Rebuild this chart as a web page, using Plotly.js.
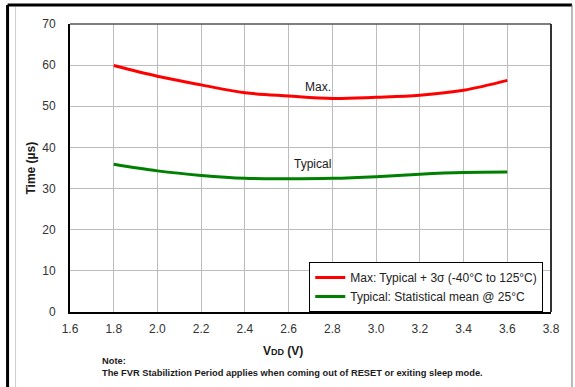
<!DOCTYPE html>
<html>
<head>
<meta charset="utf-8">
<script src="https://cdn.plot.ly/plotly-3.0.1.min.js"></script>
<style>html,body{margin:0;padding:0;background:#fff;}#chart{width:575px;height:387px;}</style>
</head>
<body>
<div id="chart"></div>
<script>
const vdd = [1.8, 2.0, 2.2, 2.4, 2.6, 2.8, 3.0, 3.2, 3.4, 3.6];
const maxTime = [59.9, 57.3, 55.2, 53.3, 52.5, 51.9, 52.2, 52.7, 53.9, 56.3];
const typicalTime = [35.9, 34.3, 33.2, 32.5, 32.4, 32.5, 32.9, 33.5, 33.9, 34.0];
const seriesNames = ["Max: Typical + 3σ (-40°C to 125°C)", "Typical: Statistical mean @ 25°C"];
const curveLabels = ["Max.", "Typical"];
const noteLines = ["Note:", "The FVR Stabiliztion Period applies when coming out of RESET or exiting sleep mode."];

const L = 69.5, R = 551, T = 24, B = 312, W = 575, H = 387;
const px = x => (x - L) / (R - L);
const py = y => (B - y) / (B - T);
const font = "Liberation Sans, Arial, sans-serif";

const traces = [
  {x: vdd, y: maxTime, name: seriesNames[0], mode: "lines",
   line: {color: "#ff0000", width: 3, shape: "spline", smoothing: 1}},
  {x: vdd, y: typicalTime, name: seriesNames[1], mode: "lines",
   line: {color: "#008000", width: 3, shape: "spline", smoothing: 1}}
];

const ann = (x, y, text, size, extra) => Object.assign({
  xref: "paper", yref: "paper", x: px(x), y: py(y), text: text, showarrow: false,
  xanchor: "center", yanchor: "middle",
  font: {family: font, size: size, color: "#1a1a1a"}
}, extra || {});

const layout = {
  width: W, height: H,
  margin: {l: L, r: W - R, t: T, b: H - B},
  paper_bgcolor: "#fff", plot_bgcolor: "#fff",
  font: {family: font, size: 12, color: "#222"},
  showlegend: true,
  legend: {x: px(309), y: py(287), xanchor: "left", yanchor: "middle",
           bordercolor: "#000", borderwidth: 1, bgcolor: "#fff",
           font: {family: font, size: 12, color: "#222"},
           tracegroupgap: 0, itemwidth: 30},
  xaxis: {range: [1.6, 3.8], dtick: 0.2, tick0: 1.6, tickformat: ".1f",
          showgrid: true, gridcolor: "#bdbdbd", gridwidth: 1,
          showline: true, linecolor: "#000", linewidth: 2, zeroline: false,
          ticks: "", ticklen: 0, ticklabelstandoff: 5, tickfont: {size: 12, color: "#333"}, fixedrange: true},
  yaxis: {range: [0, 70], dtick: 10, tick0: 0,
          showgrid: true, gridcolor: "#bdbdbd", gridwidth: 1,
          showline: true, linecolor: "#000", linewidth: 2, zeroline: false,
          ticks: "", ticklen: 0, ticklabelstandoff: 10, tickfont: {size: 12, color: "#333"}, fixedrange: true},
  shapes: [
    {type: "line", xref: "paper", yref: "paper", x0: 0, x1: 1, y0: 1, y1: 1, line: {color: "#555", width: 1.5}},
    {type: "line", xref: "paper", yref: "paper", x0: 1, x1: 1, y0: 0, y1: 1, line: {color: "#333", width: 2}},
    {type: "line", xref: "paper", yref: "paper", x0: px(7), x1: px(572), y0: py(5), y1: py(5), line: {color: "#000", width: 3}},
    {type: "line", xref: "paper", yref: "paper", x0: px(7), x1: px(7), y0: py(5), y1: py(400), line: {color: "#000", width: 3}},
    {type: "line", xref: "paper", yref: "paper", x0: px(15), x1: px(15), y0: py(7), y1: py(400), line: {color: "#ccc", width: 1}},
    {type: "line", xref: "paper", yref: "paper", x0: px(572), x1: px(572), y0: py(5), y1: py(400), line: {color: "#777", width: 1}}
  ],
  annotations: [
    ann(318, 87, curveLabels[0], 12),
    ann(312, 164, curveLabels[1], 12),
    ann(283, 351, "<b>V<span style='font-size:9px'>DD</span> (V)</b>", 12),
    ann(30, 168, "<b>Time (µs)</b>", 12, {textangle: -90}),
    ann(100, 361, "<b>" + noteLines[0] + "</b>", 9.3, {xanchor: "left"}),
    ann(100, 373, "<b>" + noteLines[1] + "</b>", 9.3, {xanchor: "left"})
  ]
};

Plotly.newPlot("chart", traces, layout, {displayModeBar: false, staticPlot: true});
</script>
</body>
</html>
